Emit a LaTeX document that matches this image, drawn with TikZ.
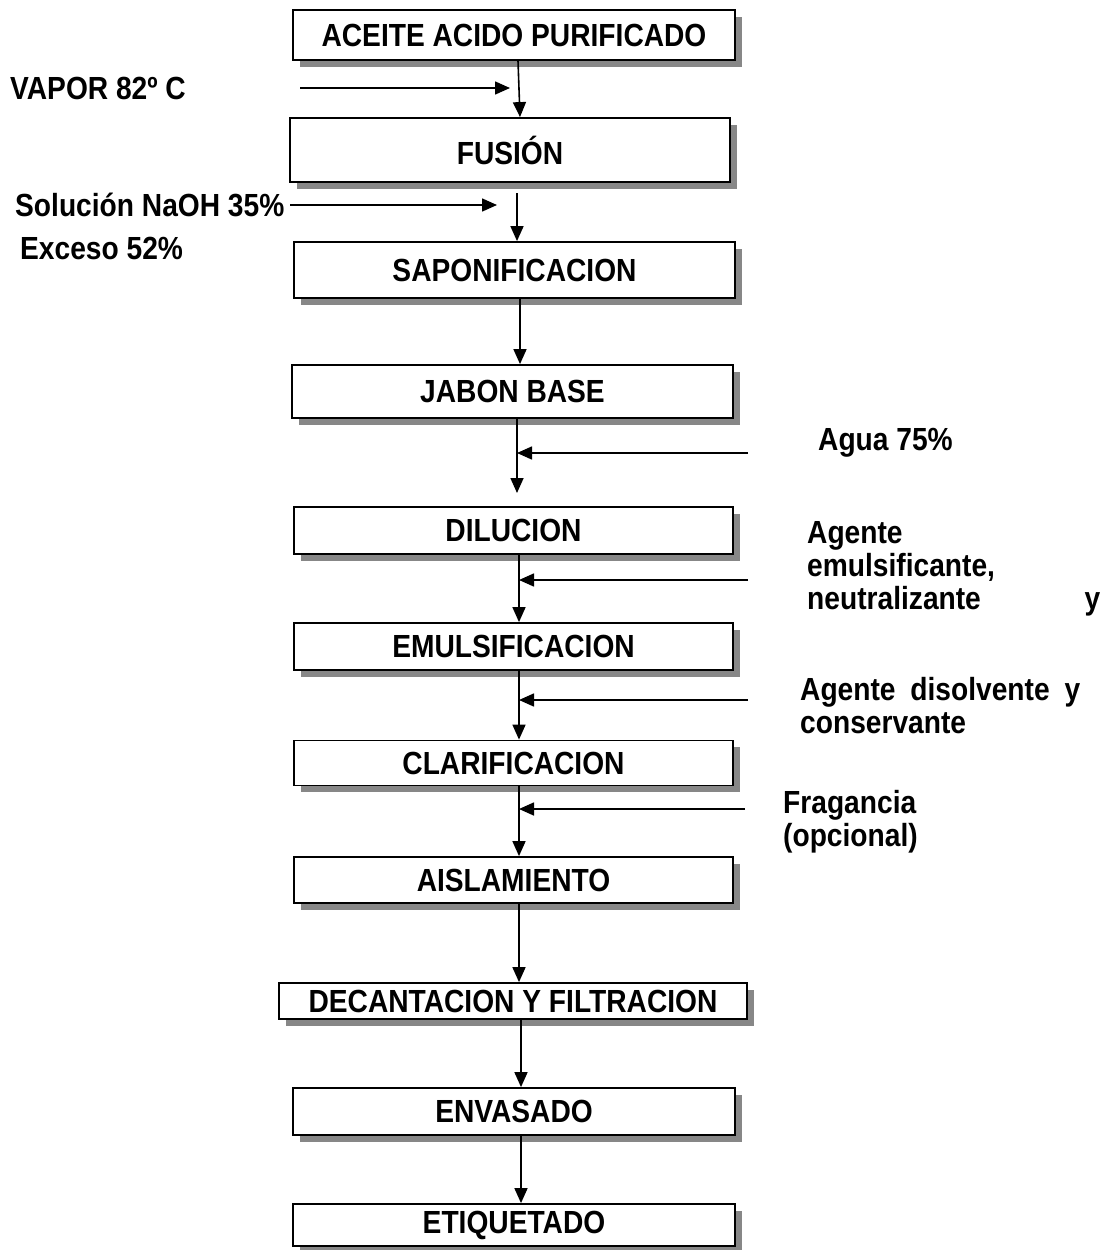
\documentclass[tikz,border=0pt]{standalone}
\usepackage{fontspec}
\setmainfont{Liberation Sans}[FakeStretch=0.88]
\usetikzlibrary{arrows.meta,shadows}
\begin{document}
\begin{tikzpicture}[x=1pt,y=-1pt,
  font=\fontsize{32}{33}\selectfont\bfseries,
  box/.style={draw, line width=1.8pt, fill=white, inner sep=0pt,
    drop shadow={shadow xshift=6.5pt, shadow yshift=-6.5pt, fill=black!47, opacity=1}},
  arr/.style={line width=1.6pt, -{Triangle[length=15pt,width=13pt]}},
  lbl/.style={anchor=west, inner sep=0pt}]
\useasboundingbox (0,0) rectangle (1108,1250);
\fill[white] (0,0) rectangle (1108,1250);
% boxes
\node[box, minimum width=442pt, minimum height=50pt] (b1) at (514,35) {ACEITE ACIDO PURIFICADO};
\node[box, minimum width=440pt, minimum height=64pt] (b2) at (510,150) {FUSIÓN};
\node[box, minimum width=441pt, minimum height=56pt] (b3) at (514.5,270) {SAPONIFICACION};
\node[box, minimum width=441pt, minimum height=53pt] (b4) at (512.5,391.5) {JABON BASE};
\node[box, minimum width=439pt, minimum height=47pt] (b5) at (513.5,530.5) {DILUCION};
\node[box, minimum width=439pt, minimum height=47pt] (b6) at (513.5,646.5) {EMULSIFICACION};
\node[box, minimum width=439pt, minimum height=45pt] (b7) at (513.5,763) {CLARIFICACION};
\node[box, minimum width=439pt, minimum height=46pt] (b8) at (513.5,880) {AISLAMIENTO};
\node[box, minimum width=468pt, minimum height=36pt] (b9) at (513,1001) {DECANTACION Y FILTRACION};
\node[box, minimum width=442pt, minimum height=47pt] (b10) at (514,1111.5) {ENVASADO};
\node[box, minimum width=442pt, minimum height=42pt] (b11) at (514,1225) {ETIQUETADO};
% side labels
\node[lbl] (vapor) at (10,88) {VAPOR 82º C};
\node[lbl] (naoh) at (15,205) {Solución NaOH 35\%};
\node[lbl] (exceso) at (20,248) {Exceso 52\%};
\node[lbl] (agua) at (818,443) {Agua 75\%};
\node[lbl, text width=293pt, align=left] (emul) at (807,569)
  {\baselineskip=33.5pt Agente\\emulsificante,\\neutralizante\hfill y};
\node[lbl, text width=280pt, align=left] (disol) at (800,706)
  {\baselineskip=38pt Agente\hfill disolvente\hfill y\\conservante};
\node[lbl, align=left] (frag) at (783,822)
  {\baselineskip=38pt Fragancia\\(opcional)};
% input coordinates
\coordinate (vs) at (300,88);
\coordinate (ve) at (510,88);
\coordinate (ns) at (290,205);
\coordinate (ne) at (497,205);
\coordinate (n2) at (517,193);
\coordinate (d5) at (517,493);
\coordinate (w1) at (748,453);
\coordinate (w2) at (748,580);
\coordinate (w3) at (748,700);
\coordinate (w4) at (745,809);
% main flow
\draw[arr] ([xshift=4pt]b1.south) -- ([xshift=10pt]b2.north);
\draw[arr] (n2) -- (b3.north -| n2);
\draw[arr] ([xshift=5.5pt]b3.south) -- ([xshift=7.5pt]b4.north);
\draw[arr] (b4.south -| d5) -- (d5);
\draw[arr] ([xshift=5.5pt]b5.south) -- ([xshift=5.5pt]b6.north);
\draw[arr] ([xshift=5.5pt]b6.south) -- ([xshift=5.5pt]b7.north);
\draw[arr] ([xshift=5.5pt]b7.south) -- ([xshift=5.5pt]b8.north);
\draw[arr] ([xshift=5.5pt]b8.south) -- ([xshift=6pt]b9.north);
\draw[arr] ([xshift=8pt]b9.south) -- ([xshift=7pt]b10.north);
\draw[arr] ([xshift=7pt]b10.south) -- ([xshift=7pt]b11.north);
% inputs
\draw[arr] (vs) -- (ve);
\draw[arr] (ns) -- (ne);
\draw[arr] (w1) -- (w1 -| d5);
\draw[arr] (w2) -- ([xshift=5.5pt]w2 -| b5.south);
\draw[arr] (w3) -- ([xshift=5.5pt]w3 -| b6.south);
\draw[arr] (w4) -- ([xshift=5.5pt]w4 -| b7.south);
\end{tikzpicture}
\end{document}
